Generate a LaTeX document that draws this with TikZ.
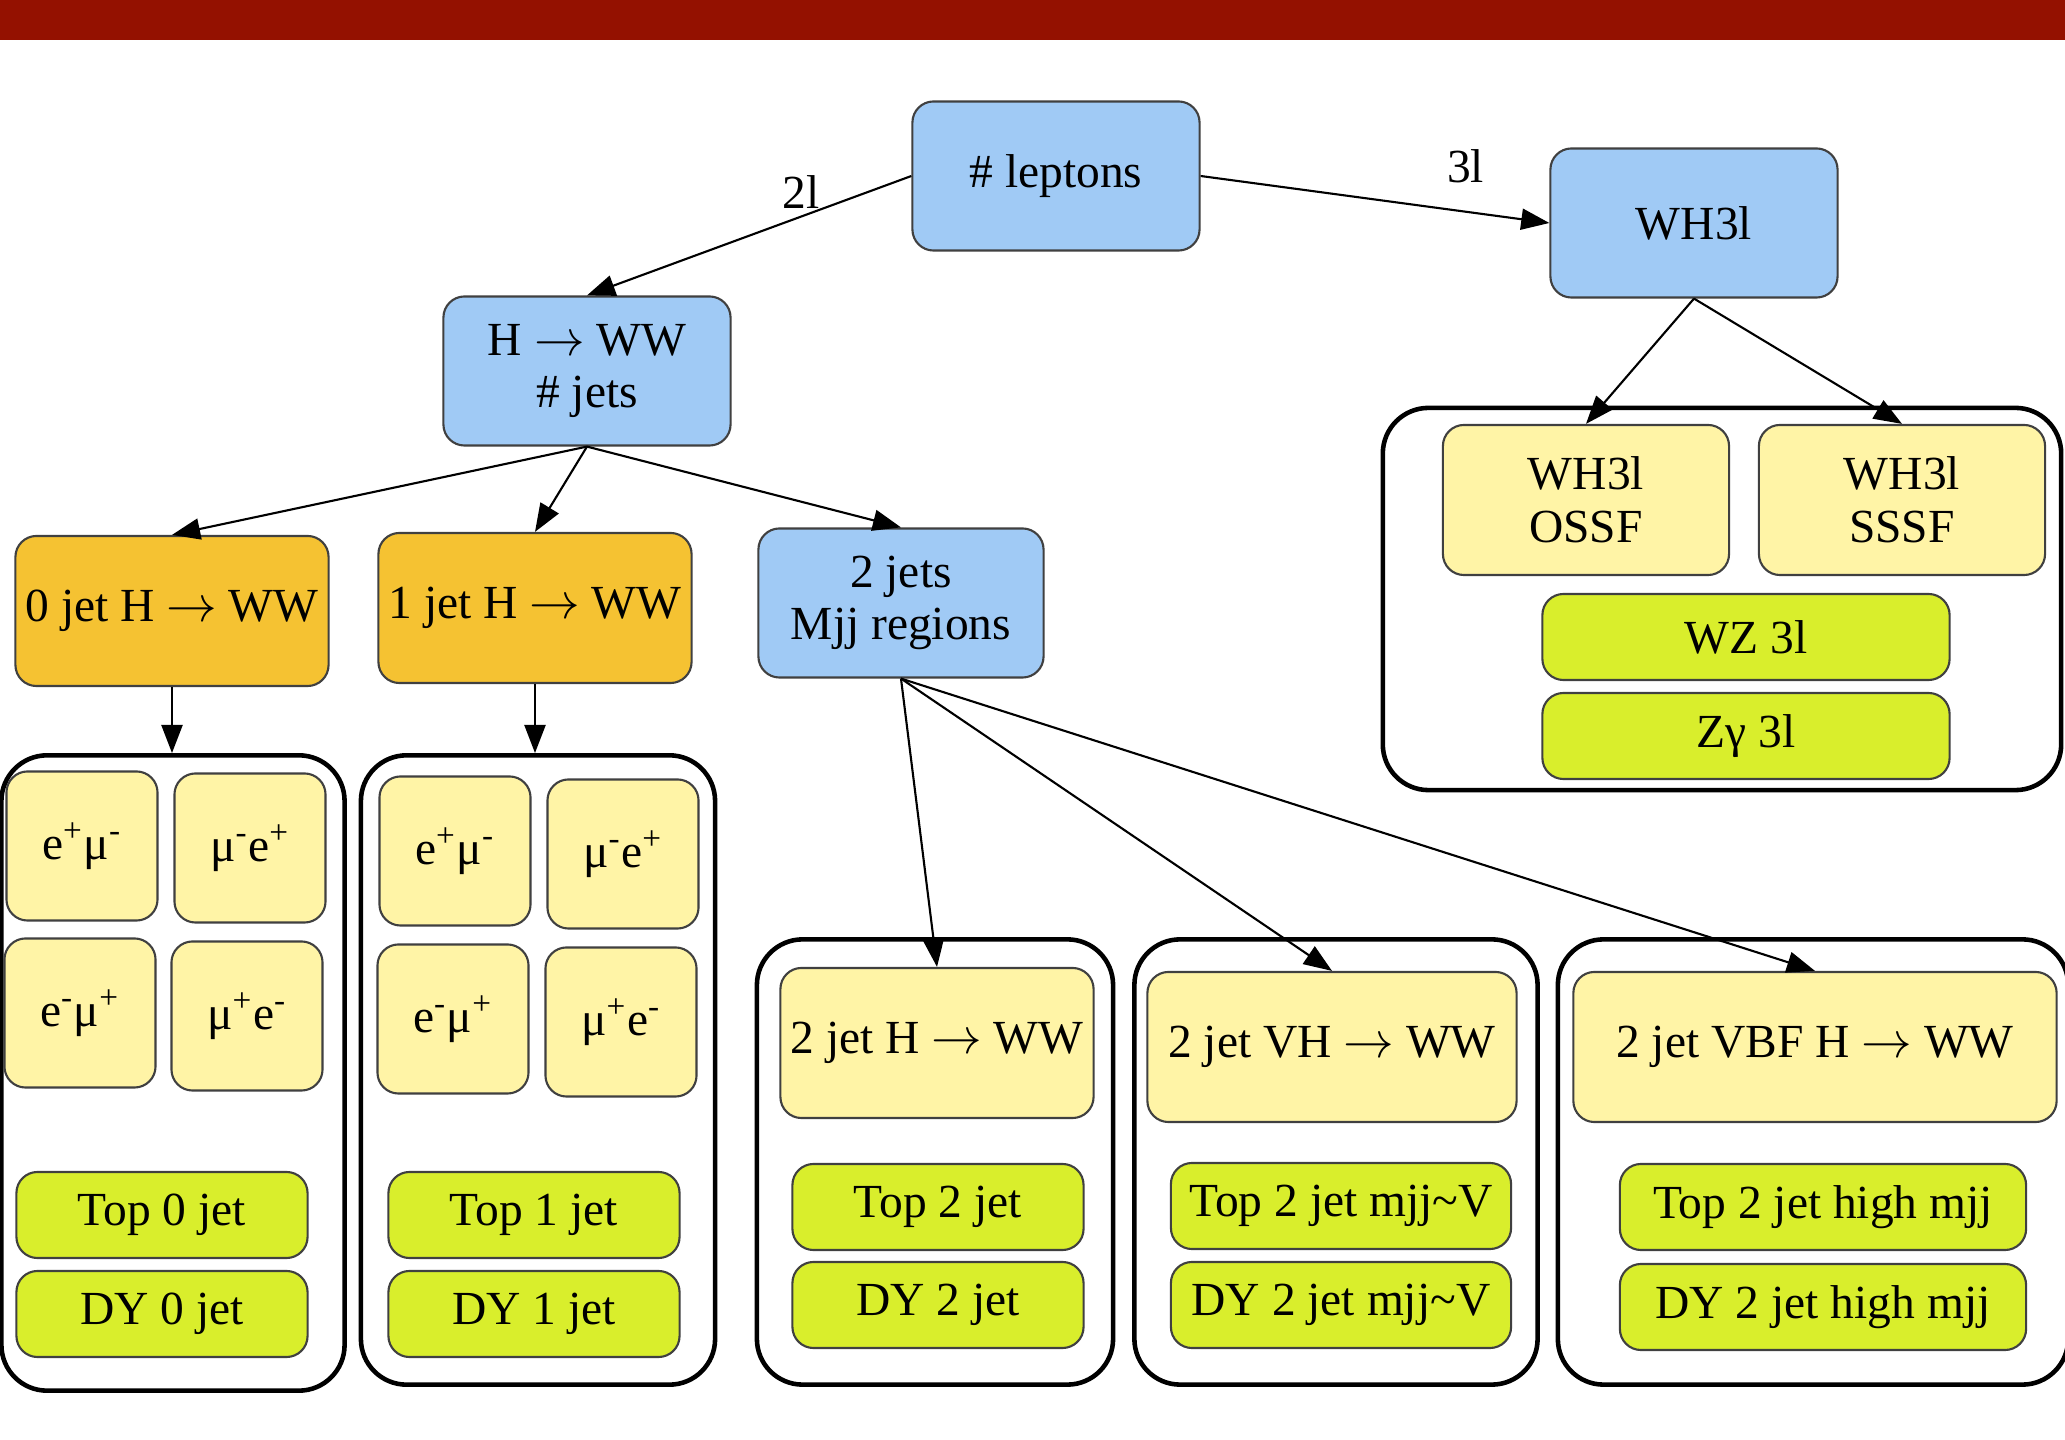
\documentclass[tikz,border=0pt]{standalone}
\usepackage{fontspec}
\setmainfont{Liberation Serif}
\usetikzlibrary{arrows.meta,positioning}

\definecolor{banner}{HTML}{941100}
\definecolor{boxblue}{HTML}{A0CAF5}
\definecolor{boxorange}{HTML}{F5C232}
\definecolor{boxpale}{HTML}{FFF4A6}
\definecolor{boxlime}{HTML}{D9EE2C}

\tikzset{
  box/.style={draw=black!75, line width=0.6pt, rounded corners=6pt,
              align=center, inner sep=0pt, font=\fontsize{13.5}{15}\selectfont},
  hub/.style={box, fill=boxblue, minimum width=2.87cm, minimum height=1.49cm},
  jetbin/.style={box, fill=boxorange, minimum width=3.13cm, minimum height=1.5cm},
  chan/.style={box, fill=boxpale, minimum width=1.51cm, minimum height=1.49cm},
  sig/.style={box, fill=boxpale, minimum height=1.5cm},
  bkg/.style={box, fill=boxlime, minimum height=0.86cm},
  cluster/.style={draw=black, line width=1.3pt, rounded corners=13pt, inner sep=0pt},
  flow/.style={-{Triangle[length=8pt,width=6pt]}, line width=0.6pt},
  tag/.style={font=\fontsize{13.5}{15}\selectfont, inner sep=1pt}
}

\begin{document}
\begin{tikzpicture}[x=0.01cm, y=-0.01cm]
  \fill[white] (0,0) rectangle (2065,1440);
  \useasboundingbox (0,0) rectangle (2065,1440);
  \fill[banner] (0,0) rectangle (2065,40);

  % clusters
  \node[cluster, minimum width=3.43cm, minimum height=6.35cm] (czero) at (173,1073) {};
  \node[cluster, minimum width=3.54cm, minimum height=6.29cm] (cone)  at (538,1070) {};
  \node[cluster, minimum width=3.56cm, minimum height=4.45cm] (ctwo)  at (935,1162) {};
  \node[cluster, minimum width=4.03cm, minimum height=4.45cm] (cvh)   at (1336,1162) {};
  \node[cluster, minimum width=5.10cm, minimum height=4.45cm] (cvbf)  at (1813,1162) {};
  \node[cluster, minimum width=6.78cm, minimum height=3.82cm] (cwh)   at (1722,599) {};

  % decision nodes
  \node[hub]    (lep)   at (1056,176) {\# leptons};
  \node[hub]    (wh)    at (1694,223) {WH3l};
  \node[hub]    (hww)   at (587,371)  {H $\rightarrow$ WW\\\# jets};
  \node[jetbin] (jzero) at (172,611)  {0 jet H $\rightarrow$ WW};
  \node[jetbin] (jone)  at (535,608)  {1 jet H $\rightarrow$ WW};
  \node[hub, minimum width=2.85cm] (jtwo) at (901,603) {2 jets\\Mjj regions};

  % 3l categories
  \node[sig, minimum width=2.86cm] (ossf) at (1586,500) {WH3l\\OSSF};
  \node[sig, minimum width=2.86cm] (sssf) at (1902,500) {WH3l\\SSSF};
  \node[bkg, minimum width=4.07cm] (wz)   at (1746,637) {WZ 3l};
  \node[bkg, minimum width=4.07cm] (zg)   at (1746,736) {Zγ 3l};

  % 0 jet
  \node[chan] (zeroA) at (82,846)   {e\textsuperscript{+}μ\textsuperscript{-}};
  \node[chan] (zeroB) at (250,848)  {μ\textsuperscript{-}e\textsuperscript{+}};
  \node[chan] (zeroC) at (80,1013)  {e\textsuperscript{-}μ\textsuperscript{+}};
  \node[chan] (zeroD) at (247,1016) {μ\textsuperscript{+}e\textsuperscript{-}};
  \node[bkg, minimum width=2.91cm] (topzero) at (162,1215) {Top 0 jet};
  \node[bkg, minimum width=2.91cm] (dyzero)  at (162,1314) {DY 0 jet};

  % 1 jet
  \node[chan] (oneA) at (455,851)  {e\textsuperscript{+}μ\textsuperscript{-}};
  \node[chan] (oneB) at (623,854)  {μ\textsuperscript{-}e\textsuperscript{+}};
  \node[chan] (oneC) at (453,1019) {e\textsuperscript{-}μ\textsuperscript{+}};
  \node[chan] (oneD) at (621,1022) {μ\textsuperscript{+}e\textsuperscript{-}};
  \node[bkg, minimum width=2.91cm] (topone) at (534,1215) {Top 1 jet};
  \node[bkg, minimum width=2.91cm] (dyone)  at (534,1314) {DY 1 jet};

  % 2 jet
  \node[sig, minimum width=3.13cm] (hwwtwo) at (937,1043) {2 jet H $\rightarrow$ WW};
  \node[bkg, minimum width=2.91cm] (toptwo) at (938,1207) {Top 2 jet};
  \node[bkg, minimum width=2.91cm] (dytwo)  at (938,1305) {DY 2 jet};

  \node[sig, minimum width=3.69cm] (vh)    at (1332,1047) {2 jet VH $\rightarrow$ WW};
  \node[bkg, minimum width=3.40cm] (topvh) at (1341,1206) {Top 2 jet mjj\textasciitilde V};
  \node[bkg, minimum width=3.40cm] (dyvh)  at (1341,1305) {DY 2 jet mjj\textasciitilde V};

  \node[sig, minimum width=4.83cm] (vbf)    at (1815,1047) {2 jet VBF H $\rightarrow$ WW};
  \node[bkg, minimum width=4.06cm] (topvbf) at (1823,1207) {Top 2 jet high mjj};
  \node[bkg, minimum width=4.06cm] (dyvbf)  at (1823,1307) {DY 2 jet high mjj};

  % edges
  \draw[flow] (lep.west) -- node[tag, pos=0.34, above=1pt] (ltwo) {2l} (hww.north);
  \draw[flow] (lep.east) -- node[tag, pos=0.76, above=7pt] (lthree) {3l} (wh.west);
  \draw[flow] (wh.south) -- (ossf.north);
  \draw[flow] (wh.south) -- (sssf.north);
  \draw[flow] (hww.south) -- (jzero.north);
  \draw[flow] (hww.south) -- (jone.north);
  \draw[flow] (hww.south) -- (jtwo.north);
  \draw[flow] (jzero.south) -- (jzero.south |- czero.north);
  \draw[flow] (jone.south) -- (jone.south |- cone.north);
  \draw[flow] (jtwo.south) -- (hwwtwo.north);
  \draw[flow] (jtwo.south) -- (vh.north);
  \draw[flow] (jtwo.south) -- (vbf.north);
\end{tikzpicture}
\end{document}
